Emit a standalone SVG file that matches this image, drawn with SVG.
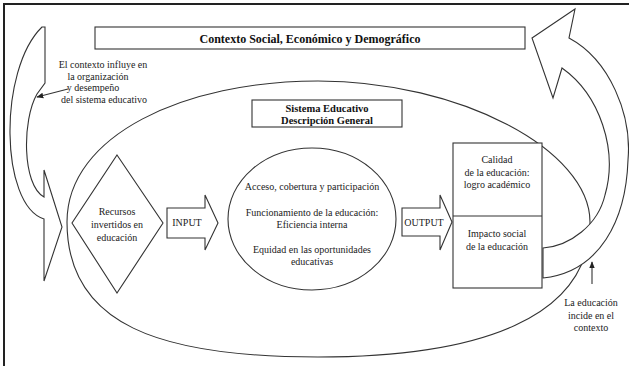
<svg xmlns="http://www.w3.org/2000/svg" width="629" height="366" viewBox="0 0 629 366" font-family="'Liberation Serif', 'Times New Roman', serif">
  <defs>
    <style>
      .ln { fill: none; stroke: #333; stroke-width: 1.1; }
      .wf { fill: #fff; stroke: #333; stroke-width: 1.1; }
      .t { font-size: 10px; fill: #222; text-anchor: middle; }
      .tb { font-weight: bold; fill: #111; text-anchor: middle; }
    </style>
    <marker id="ah" viewBox="0 0 10 10" refX="9" refY="5" markerWidth="7" markerHeight="7" markerUnits="userSpaceOnUse" orient="auto">
      <path d="M0,1 L10,5 L0,9 Z" fill="#222"/>
    </marker>
  </defs>
  <rect width="629" height="366" fill="#fff"/>
  <path d="M4,366 L4,4 L629,4" fill="none" stroke="#222" stroke-width="2"/>

  <g id="sistema-educativo">
    <path class="ln" d="M67,222 C67,135 185,81 318,81 C460,81 590,150 590,222 C590,318 480,357 318,357 C160,357 67,325 67,222 Z"/>
  </g>

  <g id="contexto">
    <rect class="wf" x="95" y="27" width="430" height="22"/>
    <text class="tb" x="310" y="43" font-size="12" font-family="Liberation Serif, serif">Contexto Social, Económico y Demográfico</text>
  </g>

  <g id="sistema-titulo" font-family="Liberation Serif, serif">
    <rect class="wf" x="252" y="100" width="150" height="27"/>
    <text class="tb" x="327" y="112" font-size="10.5">Sistema Educativo</text>
    <text class="tb" x="327" y="124" font-size="10.5">Descripción General</text>
  </g>

  <g id="flecha-contexto-izq" font-family="Liberation Serif, serif">
    <path class="wf" d="M45,27 L45,83 L37,94 C22,120 22,185 44,197 L44,170 L62,227 L44,281 L44,219 C0,205 -2,70 42,27 Z"/>
    <text class="t" x="103" y="68">El contexto influye en</text>
    <text class="t" x="98" y="80">la organización</text>
    <text class="t" x="93" y="91">y desempeño</text>
    <text class="t" x="104" y="103">del sistema educativo</text>
  </g>

  <g id="flecha-contexto-der" font-family="Liberation Serif, serif">
    <path class="wf" d="M543,278 C600,272 626,220 628,160 C632,115 610,60 569,38 L575,9 L532,38 L553,98 L562,68 C600,95 618,150 605,195 C598,225 570,246 543,248 Z"/>
    <text class="t" x="591" y="306">La educación</text>
    <text class="t" x="591" y="319">incide en el</text>
    <text class="t" x="591" y="331">contexto</text>
  </g>

  <g id="recursos" font-family="Liberation Serif, serif">
    <path class="wf" d="M117,155 L163,223 L117,293 L72,223 Z"/>
    <text class="t" x="117" y="215">Recursos</text>
    <text class="t" x="117" y="228">invertidos en</text>
    <text class="t" x="117" y="241">educación</text>
  </g>

  <g id="input" font-family="Liberation Serif, serif">
    <path class="wf" d="M167,208 L205,208 L205,195 L218,223 L205,250 L205,238 L167,238 Z"/>
    <text class="t" x="187" y="226">INPUT</text>
  </g>

  <g id="proceso" font-family="Liberation Serif, serif">
    <ellipse class="wf" cx="312" cy="219" rx="84" ry="71"/>
    <text class="t" x="312" y="190">Acceso, cobertura y participación</text>
    <text class="t" x="312" y="216">Funcionamiento de la educación:</text>
    <text class="t" x="312" y="228">Eficiencia interna</text>
    <text class="t" x="312" y="253">Equidad en las oportunidades</text>
    <text class="t" x="312" y="265">educativas</text>
  </g>

  <g id="output" font-family="Liberation Serif, serif">
    <path class="wf" d="M402,208 L440,208 L440,195 L452,222 L440,250 L440,236 L402,236 Z"/>
    <text class="t" x="424" y="226">OUTPUT</text>
  </g>

  <g id="resultados" font-family="Liberation Serif, serif">
    <rect class="wf" x="453" y="143" width="89" height="145"/>
    <line class="ln" x1="453" y1="216" x2="542" y2="216"/>
    <text class="t" x="497" y="163">Calidad</text>
    <text class="t" x="497" y="176">de la educación:</text>
    <text class="t" x="497" y="188">logro académico</text>
    <text class="t" x="497" y="237">Impacto social</text>
    <text class="t" x="497" y="250">de la educación</text>
  </g>

  <g id="connectors">
    <line class="ln" x1="68" y1="89" x2="37" y2="97" marker-end="url(#ah)"/>
    <line class="ln" x1="592" y1="284" x2="592" y2="262" marker-end="url(#ah)"/>
  </g>
</svg>
